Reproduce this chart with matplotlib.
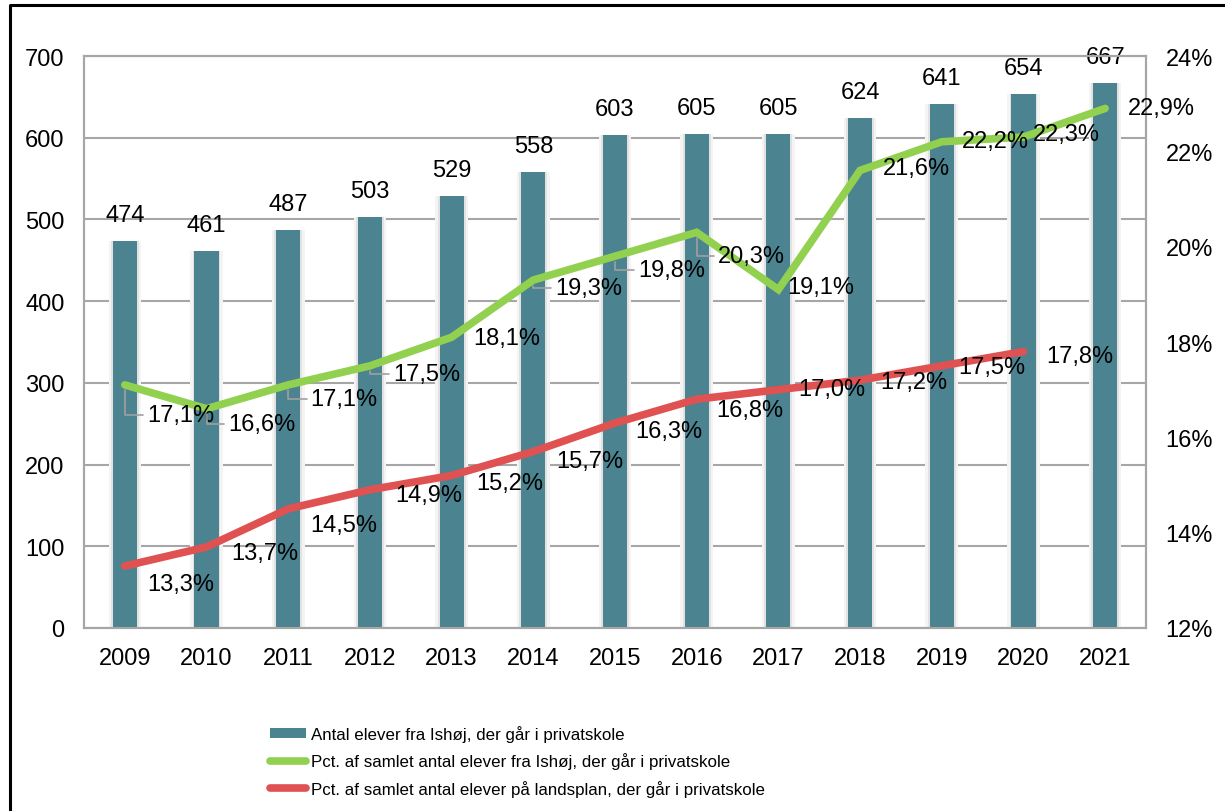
import matplotlib
matplotlib.use('Agg')
import matplotlib.pyplot as plt
from matplotlib.patches import Patch
from matplotlib.lines import Line2D
from matplotlib.ticker import FuncFormatter

plt.rcParams['font.family'] = ['Liberation Sans', 'DejaVu Sans']

# data
years = ['2009', '2010', '2011', '2012', '2013', '2014', '2015',
         '2016', '2017', '2018', '2019', '2020', '2021']
elever = [474, 461, 487, 503, 529, 558, 603, 605, 605, 624, 641, 654, 667]
pct_ishoj = [17.1, 16.6, 17.1, 17.5, 18.1, 19.3, 19.8, 20.3, 19.1, 21.6, 22.2, 22.3, 22.9]
pct_land = [13.3, 13.7, 14.5, 14.9, 15.2, 15.7, 16.3, 16.8, 17.0, 17.2, 17.5, 17.8]

legend_labels = ['Antal elever fra Ishøj, der går i privatskole',
                 'Pct. af samlet antal elever fra Ishøj, der går i privatskole',
                 'Pct. af samlet antal elever på landsplan, der går i privatskole']

bar_color = '#4B8390'
green = '#92D050'
red = '#E05252'
grid_gray = '#A6A6A6'

# label placement (pixel offsets from point), styling only
g_dx = [56, 55, 56, 57, 55, 55, 57, 55, 42, 56, 54, 43, 56]
g_dy = [-30, -15, -14, -8, -1, -8, -14, -24, 3, 2, 1, 3, 0]
g_leader = [True, True, True, True, False, True, True, True, False, False, False, False, False]
r_dx = [56, 58, 56, 59, 58, 57, 54, 53, 53, 54, 50, 56]
r_dy = [-18, -6, -16, -5, -8, -9, -8, -11, 1, -2, -1, -4]

fig = plt.figure(figsize=(12.25, 8.12), dpi=100)
ax = fig.add_axes([84 / 1225, (812 - 629) / 812, 1062 / 1225, 572 / 812])
ax2 = ax.twinx()

x = list(range(len(years)))

# bars with soft shadow
ax.bar(x, elever, width=0.40, color='#F4F4F4', zorder=1)
ax.bar(x, elever, width=0.34, color='#E2E2E2', zorder=1)
ax.bar(x, elever, width=0.295, color=bar_color, zorder=2)

ax.set_xlim(-0.5, len(years) - 0.5)
ax.set_ylim(0, 700)
ax.set_yticks(range(0, 701, 100))
ax.set_xticks(x)
ax.set_xticklabels(years)
ax.yaxis.grid(True, color=grid_gray, linewidth=1.5, zorder=0)
ax.set_axisbelow(True)

for xi, v in zip(x, elever):
    ax.annotate(str(v), (xi, v), xytext=(0, 26 * 0.72), textcoords='offset points',
                ha='center', va='center', fontsize=17, zorder=5)

# lines on secondary axis
ax2.plot(x, pct_ishoj, color=green, linewidth=5.5, solid_capstyle='round',
         solid_joinstyle='miter', zorder=3)
ax2.plot(x[:len(pct_land)], pct_land, color=red, linewidth=5.5, solid_capstyle='round',
         solid_joinstyle='miter', zorder=3)
ax2.set_ylim(12, 24)
ax2.set_yticks(range(12, 25, 2))
ax2.yaxis.set_major_formatter(FuncFormatter(lambda v, p: f'{int(v)}%'))

def fmt(v):
    return f'{v:.1f}'.replace('.', ',') + '%'

for i, v in enumerate(pct_ishoj):
    kw = {}
    if g_leader[i]:
        kw['arrowprops'] = dict(arrowstyle='-', color='#A0A0A0', lw=1.2,
                                connectionstyle='angle,angleA=0,angleB=90,rad=0',
                                shrinkA=1, shrinkB=4)
    ax2.annotate(fmt(v), (i, v), xytext=(g_dx[i] * 0.72, g_dy[i] * 0.72),
                 textcoords='offset points', ha='center', va='center',
                 fontsize=17, zorder=6, annotation_clip=False, **kw)

for i, v in enumerate(pct_land):
    ax2.annotate(fmt(v), (i, v), xytext=(r_dx[i] * 0.72, r_dy[i] * 0.72),
                 textcoords='offset points', ha='center', va='center',
                 fontsize=17, zorder=6, annotation_clip=False)

for a in (ax, ax2):
    a.tick_params(length=0, labelsize=17)
    for s in a.spines.values():
        s.set_color(grid_gray)
        s.set_linewidth(1.5)
ax.tick_params(axis='y', pad=14)
ax.tick_params(axis='x', pad=14)
ax2.tick_params(axis='y', pad=14)

# legend
handles = [Patch(facecolor=bar_color, edgecolor='none'),
           Line2D([], [], color=green, linewidth=5.5, solid_capstyle='round'),
           Line2D([], [], color=red, linewidth=5.5, solid_capstyle='round')]
fig.legend(handles, legend_labels, loc='center left',
           bbox_to_anchor=(270 / 1225, (812 - 762) / 812),
           frameon=False, borderpad=0, borderaxespad=0,
           handlelength=2.1, handleheight=0.55, handletextpad=0.3, labelspacing=0.6,
           prop={'size': 12.2})

# figure frame (left and top)
fig.add_artist(Line2D([10 / 1225, 10 / 1225, 1.0], [0.0, 1 - 6 / 812, 1 - 6 / 812],
                      transform=fig.transFigure, color='black', linewidth=2.2))

fig.savefig('out.png', dpi=100)
